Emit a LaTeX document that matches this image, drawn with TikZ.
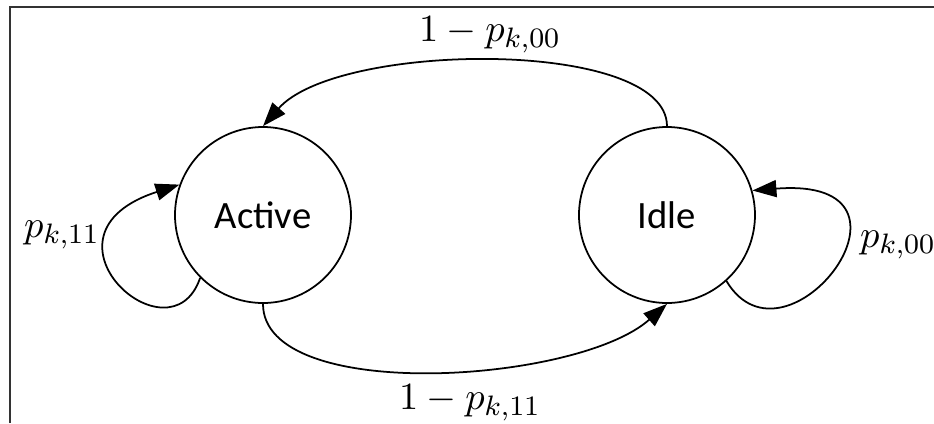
\documentclass[tikz,border=0pt]{standalone}
\usepackage{fontspec}
\newfontfamily\calib{Carlito}
\usetikzlibrary{arrows.meta}
\begin{document}
\begin{tikzpicture}[x=1cm,y=1cm,>={Triangle[length=2.4mm,width=1.7mm]}]
    \tikzset{
        mstate/.style={
            draw,circle,line width=0.5pt,fill=white,
            minimum size=1.76cm,inner sep=0pt,
            font=\calib\fontsize{11}{13}\selectfont
        },
        trans/.style={->,line width=0.5pt},
        lbl/.style={font=\fontsize{11}{13}\selectfont,inner sep=1pt},
        frameline/.style={draw=black!80,line width=0.6pt}
    }
    \useasboundingbox (0,0) rectangle (9.34,4.23);
    \draw[frameline] (0.10,0) |- (9.34,4.16);

    \node[mstate] (active) at (2.63,2.08) {Active};
    \node[mstate] (idle) at (6.67,2.08) {Idle};

    \node[lbl] (top-lbl) at (4.90,3.88) {$1-p_{k,00}$};
    \node[lbl] (bot-lbl) at (4.70,0.20) {$1-p_{k,11}$};
    \node[lbl] (act-lbl) at (0.62,1.88) {$p_{k,11}$};
    \node[lbl,anchor=west] (idl-lbl) at (8.56,1.78) {$p_{k,00}$};

    \draw[trans] (idle.north) .. controls +(0,0.88) and +(0.75,0.85) .. (active.north);
    \draw[trans] (active.south) .. controls +(0,-1.0) and +(-0.9,-0.8) .. (idle.south);
    \draw[trans] (active.225) .. controls +(-0.3,-0.88) and +(-1.55,-0.5) .. (active.160);
    \draw[trans] (idle.312) .. controls +(0.6,-1.0) and +(1.9,0.15) .. (idle.16);
\end{tikzpicture}
\end{document}
